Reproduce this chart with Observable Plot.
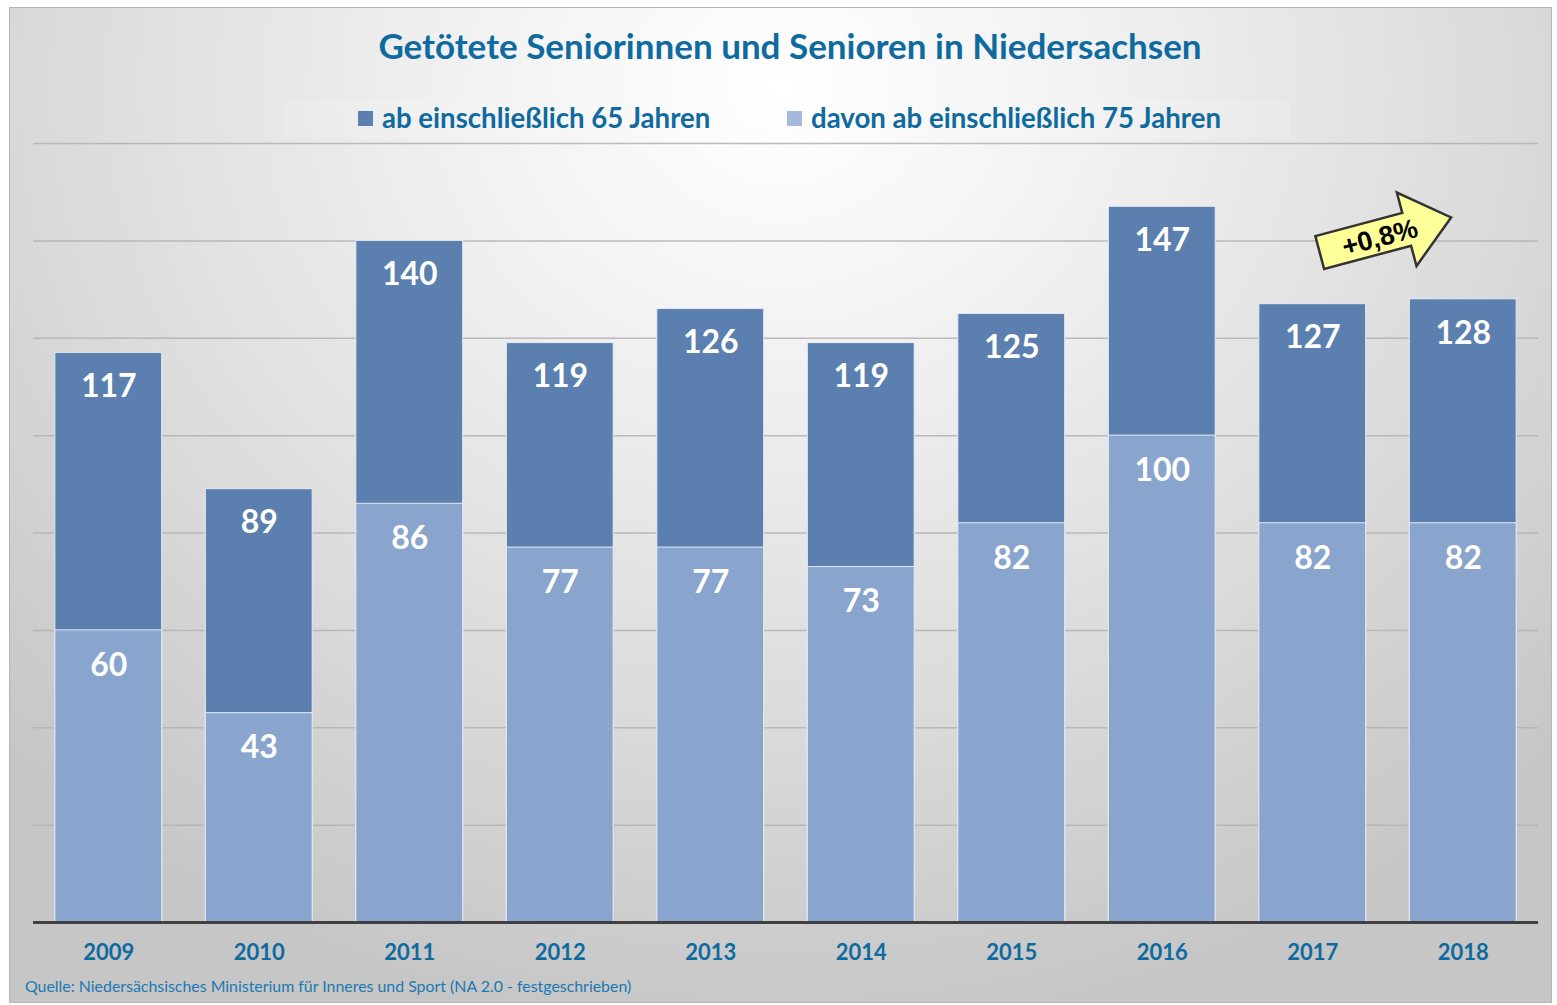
<!DOCTYPE html>
<html><head><meta charset="utf-8">
<script src="https://cdn.jsdelivr.net/npm/d3@7"></script>
<script src="https://cdn.jsdelivr.net/npm/@observablehq/plot@0.6"></script>
<style>
html,body{margin:0;padding:0;background:#fff;}
#page{position:relative;width:1557px;height:1005px;overflow:hidden;font-family:Lato,"Open Sans",sans-serif;}
#frame{position:absolute;left:9px;top:7px;width:1541px;height:994px;border:1px solid #b5b5b5;
 background:radial-gradient(ellipse 70% 95% at 50% 8%, #ffffff 0%, #f1f1f1 30%, #dcdcdc 65%, #c6c6c6 100%);}
#title{position:absolute;left:0;top:24px;width:1580px;text-align:center;font-weight:700;font-size:35px;color:#0e6a9f;}
#legendbox{position:absolute;left:283px;top:100px;width:1007px;height:38px;background:rgba(255,255,255,0.12);}
.leg{position:absolute;top:101px;font-weight:700;font-size:27.6px;color:#0e6a9f;white-space:nowrap;}
.sw{display:inline-block;width:15px;height:15px;margin-right:9px;vertical-align:2px;}
#chart{position:absolute;left:0;top:130px;}
#caption{position:absolute;left:25px;top:976px;font-size:15.9px;color:#1b78b2;white-space:nowrap;}
</style></head>
<body>
<div id="page">
 <div id="frame"></div>
 <div id="title"></div>
 <div id="legendbox"></div>
 <div class="leg" id="leg1" style="left:358px"></div>
 <div class="leg" id="leg2" style="left:787px"></div>
 <div id="chart"></div>
 <div id="caption"></div>
</div>
<script>
const titleText = "Getötete Seniorinnen und Senioren in Niedersachsen";
const seriesNames = ["ab einschließlich 65 Jahren", "davon ab einschließlich 75 Jahren"];
const years = ["2009","2010","2011","2012","2013","2014","2015","2016","2017","2018"];
const age65plus = [117, 89, 140, 119, 126, 119, 125, 147, 127, 128];
const age75plus = [60, 43, 86, 77, 77, 73, 82, 100, 82, 82];
const gridValues = [20, 40, 60, 80, 100, 120, 140, 160];
const changeLabel = "+0,8%";
const captionText = "Quelle: Niedersächsisches Ministerium für Inneres und Sport (NA 2.0 - festgeschrieben)";

const darkBlue = "#5b7fae", lightBlue = "#8aa5cd", textBlue = "#0e6a9f";

document.getElementById("title").textContent = titleText;
document.getElementById("leg1").innerHTML = `<span class="sw" style="background:${darkBlue}"></span>` + seriesNames[0];
document.getElementById("leg2").innerHTML = `<span class="sw" style="background:#a7b9da"></span>` + seriesNames[1];
document.getElementById("caption").textContent = captionText;

const data = years.map((y, i) => ({year: y, total: age65plus[i], old: age75plus[i]}));

const arrowMark = (index, scales, values, dimensions) => {
  const x = scales.x, y = scales.y;
  const cx = (x(years[8]) + x.bandwidth() + x(years[9])) / 2 - 4;
  const cy = y(141);
  const g = d3.create("svg:g").attr("transform", `translate(${cx},${cy}) rotate(-15)`);
  g.append("path")
    .attr("d", "M-66,-17 L24,-17 L24,-38 L70,0 L24,38 L24,17 L-66,17 Z")
    .attr("fill", "#ffff99").attr("stroke", "#333").attr("stroke-width", 2.5)
    .attr("stroke-linejoin", "miter");
  g.append("text").text(changeLabel)
    .attr("x", -4).attr("y", 10).attr("text-anchor", "middle")
    .attr("font-family", "Liberation Sans, Arial, sans-serif").attr("font-weight", "bold")
    .attr("font-size", 27).attr("fill", "#000");
  return g.node();
};

const chart = Plot.plot({
  width: 1557,
  height: 845,
  marginLeft: 33,
  marginRight: 19,
  marginTop: 13,
  marginBottom: 53,
  style: {background: "transparent", fontFamily: "Lato, 'Open Sans', sans-serif", overflow: "visible"},
  x: {domain: years, paddingInner: 0.29, paddingOuter: 0.145, round: false, label: null},
  y: {domain: [0, 160], axis: null},
  marks: [
    Plot.ruleY(gridValues, {stroke: "#b4b4b4", strokeWidth: 1.5, strokeOpacity: 0.9}),
    Plot.barY(data, {x: "year", y: "total", fill: darkBlue, stroke: "#e6ecf4", strokeWidth: 1}),
    Plot.barY(data, {x: "year", y: "old", fill: lightBlue, stroke: "#e6ecf4", strokeWidth: 1}),
    Plot.ruleY([0], {stroke: "#404040", strokeWidth: 3}),
    Plot.text(data, {x: "year", y: "total", text: d => String(d.total), dy: 34, fill: "white", fontSize: 32, fontWeight: "bold"}),
    Plot.text(data, {x: "year", y: "old", text: d => String(d.old), dy: 35, fill: "white", fontSize: 32, fontWeight: "bold"}),
    Plot.axisX({tickSize: 0, tickPadding: 22, fontSize: 22, fontWeight: "bold", fill: textBlue, label: null}),
    arrowMark
  ]
});
document.getElementById("chart").appendChild(chart);
</script>
</body></html>
